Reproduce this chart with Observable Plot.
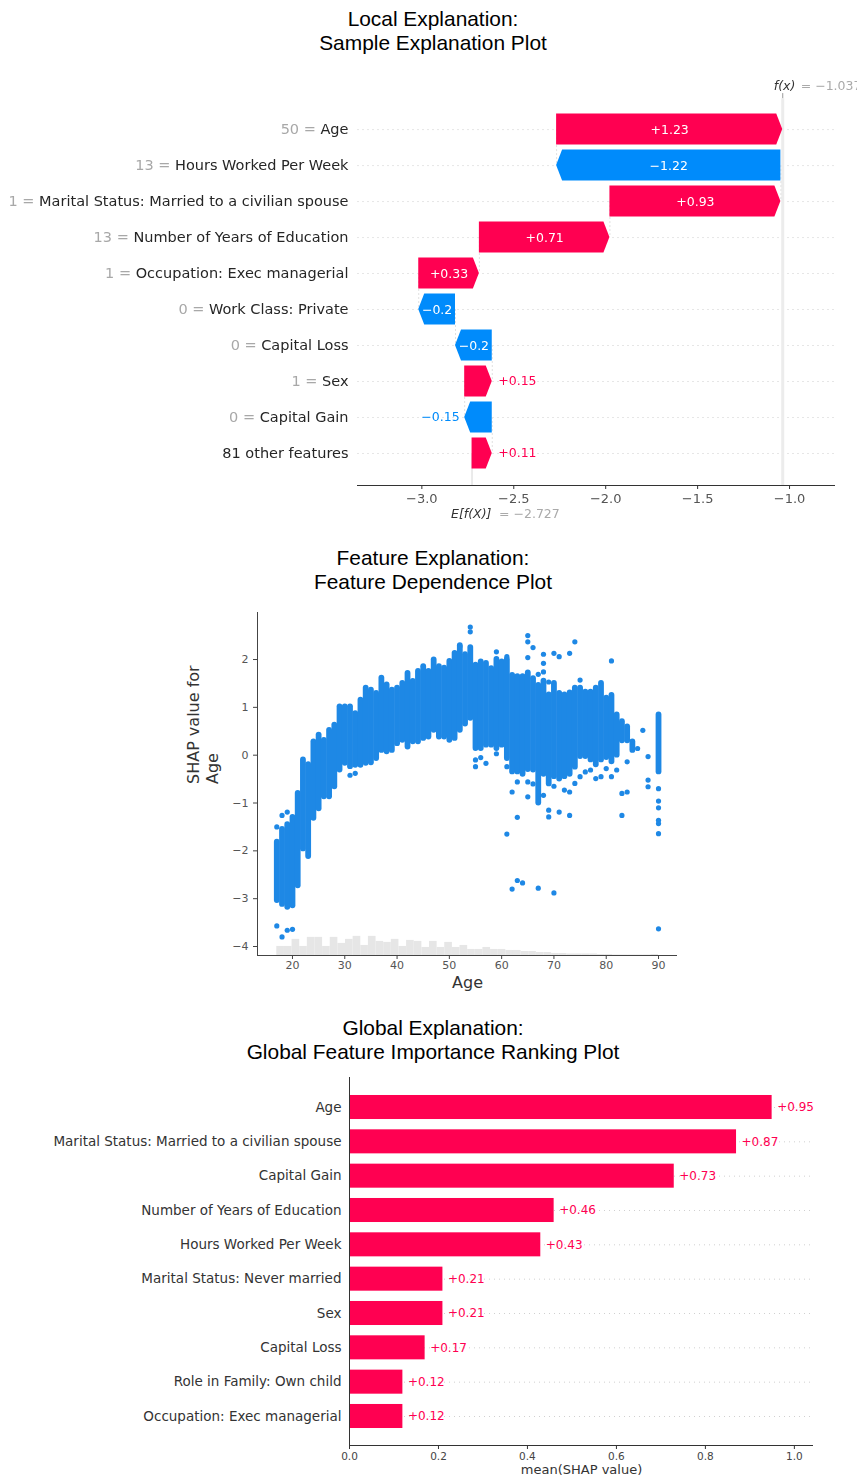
<!DOCTYPE html>
<html lang="en">
<head>
<meta charset="utf-8">
<title>SHAP explanations</title>
<script src="https://cdn.jsdelivr.net/npm/d3@7"></script>
<script src="https://cdn.jsdelivr.net/npm/@observablehq/plot@0.6"></script>
<style>
  html, body { margin: 0; background: #fff; }
  #page { position: relative; width: 857px; height: 1481px; overflow: hidden; }
  .title { position: absolute; left: 0; width: 866px; text-align: center;
           font: 20.9px/24px "Liberation Sans", Arial, sans-serif; color: #000; }
  .panel { position: absolute; left: 0; }
  .panel svg { display: block; overflow: hidden; }
  #local svg { filter: blur(0.35px); }
</style>
</head>
<body>
<div id="page">
  <div class="title" style="top:7px">Local Explanation:<br>Sample Explanation Plot</div>
  <div class="panel" id="local" style="top:60px"></div>
  <div class="title" style="top:546px">Feature Explanation:<br>Feature Dependence Plot</div>
  <div class="panel" id="dependence" style="top:600px"></div>
  <div class="title" style="top:1016px">Global Explanation:<br>Global Feature Importance Ranking Plot</div>
  <div class="panel" id="global" style="top:1070px"></div>
</div>
<script>
// ---------- Local explanation (waterfall) ----------
const localFeatures = ["Age", "Hours Worked Per Week", "Marital Status: Married to a civilian spouse",
  "Number of Years of Education", "Occupation: Exec managerial", "Work Class: Private",
  "Capital Loss", "Sex", "Capital Gain", "81 other features"];
const localValues = ["50", "13", "1", "13", "1", "0", "0", "1", "0", ""];
const localShap = [1.23, -1.22, 0.93, 0.71, 0.33, -0.2, -0.2, 0.15, -0.15, 0.11];
const baseValue = -2.727;
const localTicks = [-3.0, -2.5, -2.0, -1.5, -1.0];

// ---------- Feature dependence (Age) ----------
// dense columns of points: per age, lowest and highest SHAP value
const colAge = [17,18,19,20,21,22,23,24,25,26,27,28,29,30,31,32,33,34,35,36,37,38,39,40,41,42,43,44,45,46,
  47,48,49,50,51,52,53,54,55,56,57,58,59,60,61,62,63,64,65,66,67,68,69,70,71,72,73,74,75,76,77,78,79,80,
  81,82,83,84,85,90];
const colHi = [-1.82,-1.55,-1.45,-1.30,-0.80,-0.10,-0.20,0.28,0.42,0.31,0.52,0.63,1.01,1.01,1.01,0.87,1.15,1.40,1.36,1.29,
  1.61,1.47,1.36,1.40,1.50,1.71,1.54,1.75,1.85,1.75,1.99,1.85,1.82,1.96,2.13,2.29,2.10,2.25,1.88,1.95,
  1.92,1.81,2.00,1.95,2.00,1.67,1.64,1.64,1.72,1.60,1.46,1.55,1.26,1.50,1.29,1.26,1.30,1.40,1.40,1.32,
  1.32,1.40,1.50,1.19,1.25,0.84,0.70,0.59,0.28,0.84];
const colLo = [-3.04,-3.12,-3.18,-3.15,-2.73,-1.96,-2.12,-1.32,-1.12,-0.87,-0.87,-0.66,-0.31,-0.17,-0.24,-0.21,-0.21,-0.17,-0.16,-0.07,
  0.10,0.07,0.10,0.24,0.31,0.17,0.28,0.28,0.35,0.38,0.52,0.38,0.38,0.31,0.35,0.52,0.65,0.77,0.14,0.14,
  0.21,0.21,0.14,0.21,-0.07,-0.35,-0.35,-0.40,-0.30,-0.31,-1.00,-0.40,-0.60,-0.45,-0.50,-0.45,-0.40,-0.25,-0.03,-0.03,
  -0.10,-0.20,-0.10,-0.05,-0.14,0.00,0.30,0.30,0.10,-0.35];
// scattered individual points
const ptAge = [17,18,19,17,18,19,20,31,32,52,54,54,59,61,65,65,66,65,68,68,68,70,71,73,74,81,67,69,75,
  55,55,56,57,59,61,62,63,65,65,66,68,69,69,70,71,72,73,73,74,75,76,77,78,79,80,81,82,83,83,84,84,85,86,87,
  88,88,88,63,61,63,62,64,67,70,90,90,90,90,90,90,90];
const ptShap = [-1.50,-1.26,-1.19,-3.57,-3.80,-3.66,-3.64,-0.42,-0.38,2.27,2.68,2.58,2.16,2.06,2.50,2.37,2.25,2.04,2.11,1.92,1.74,2.13,2.06,2.13,2.37,1.97,1.69,1.53,1.57,
  -0.24,-0.10,-0.05,-0.17,0.03,-0.24,-0.77,-0.56,-0.56,-0.87,-0.60,-0.84,-1.15,-1.29,-0.65,-1.19,-0.73,-0.77,-1.26,-0.59,-0.45,-0.35,-0.31,-0.49,-0.45,-0.28,-0.45,-0.31,-0.80,-1.26,-0.77,-0.14,0.28,0.14,0.52,
  -0.03,-0.52,-0.66,-1.30,-1.65,-2.62,-2.80,-2.67,-2.78,-2.88,-0.70,-0.96,-1.10,-1.36,-1.43,-1.64,-3.63];
// age histogram: 50 bins from 17 to 90
const histStart = 17, histEnd = 90;
const histCounts = [495,495,880,495,990,990,495,990,660,880,1045,550,1045,770,715,880,495,825,770,440,
  770,440,715,440,550,330,330,440,330,330,275,275,220,220,165,165,110,110,83,83,83,83,55,55,28,28,28,28,28,55];
const depXTicks = [20, 30, 40, 50, 60, 70, 80, 90];
const depYTicks = [-4, -3, -2, -1, 0, 1, 2];

// ---------- Global importance ----------
const globalFeatures = ["Age", "Marital Status: Married to a civilian spouse", "Capital Gain",
  "Number of Years of Education", "Hours Worked Per Week", "Marital Status: Never married", "Sex",
  "Capital Loss", "Role in Family: Own child", "Occupation: Exec managerial"];
const globalMeanShap = [0.95, 0.87, 0.73, 0.46, 0.43, 0.21, 0.21, 0.17, 0.12, 0.12];
const globalTicks = [0, 0.2, 0.4, 0.6, 0.8, 1.0];

// ---------- shared styling ----------
const RED = "#ff0051", BLUE = "#008bfb", DOT_BLUE = "#1e88e5";
const FONT = "'DejaVu Sans', sans-serif";
const minus = s => String(s).replace("-", "\u2212");
const signed = v => (v > 0 ? "+" : "\u2212") + Math.abs(v);
const measureCtx = document.createElement("canvas").getContext("2d");
const textWidth = (s, size) => { measureCtx.font = `${size}px 'DejaVu Sans'`; return measureCtx.measureText(s).width; };

// ===== waterfall =====
{
  const W = 857, H = 470, mL = 357, mR = 22, mB = 45;
  const xDomain = [-3.35, -0.75];
  const yTop = -1.92, yAxis = 9.89;          // row units: space above the first bar, axis line below the last
  const halfBar = 0.43;
  const labelSize = 14.5, labelGap = 9;
  const unitsPerPx = (xDomain[1] - xDomain[0]) / (W - mL - mR);
  const headLen = 6 * unitsPerPx;

  // chain the contributions upward from the expected value
  const rows = [];
  let cursor = baseValue;
  for (let i = localShap.length - 1; i >= 0; i--) {
    const start = cursor, end = cursor + localShap[i];
    rows[i] = {i, name: localFeatures[i], value: localValues[i], shap: localShap[i], start, end,
      nameW: textWidth(localFeatures[i], labelSize)};
    cursor = end;
  }
  const fx = cursor;
  const spaceW = textWidth(" ", labelSize);

  const arrowPts = rows.flatMap(r => {
    const s = Math.sign(r.shap), head = Math.min(headLen, Math.abs(r.shap));
    const back = r.end - s * head;
    return [
      {i: r.i, pos: r.shap > 0, y: r.i - halfBar, x1: r.start, x2: back},
      {i: r.i, pos: r.shap > 0, y: r.i, x1: r.start, x2: r.end},
      {i: r.i, pos: r.shap > 0, y: r.i + halfBar, x1: r.start, x2: back}
    ];
  });
  const fits = r => Math.abs(r.shap) / unitsPerPx > signed(r.shap).length * 7.2;
  const inside = rows.filter(fits), outside = rows.filter(r => !fits(r));

  const chart = Plot.plot({
    width: W, height: H, marginLeft: mL, marginRight: mR, marginTop: 0, marginBottom: mB,
    style: {fontFamily: FONT, background: "white"},
    x: {domain: xDomain, axis: null},
    y: {domain: [yAxis, yTop], axis: null},
    marks: [
      Plot.ruleY(rows, {y: "i", stroke: "#e6e6e6", strokeDasharray: "2,3"}),
      Plot.ruleX([fx], {y1: -0.86, y2: yAxis, stroke: "#ececec", strokeWidth: 3}),
      Plot.ruleX([fx], {y1: -1.0, y2: -0.86, stroke: "#999"}),
      Plot.ruleX([baseValue], {y1: rows.length - 1, y2: yAxis, stroke: "#e4e4e4", strokeWidth: 1.5}),
      Plot.ruleX(rows.slice(0, -1), {x: "start", y1: "i", y2: d => d.i + 1, stroke: "#e0e0e0", strokeDasharray: "2,2"}),
      Plot.areaX(arrowPts.filter(d => d.pos), {y: "y", x1: "x1", x2: "x2", z: "i", fill: RED, curve: "linear"}),
      Plot.areaX(arrowPts.filter(d => !d.pos), {y: "y", x1: "x1", x2: "x2", z: "i", fill: BLUE, curve: "linear"}),
      Plot.text(inside, {x: d => (d.start + d.end) / 2, y: "i", text: d => signed(d.shap), fill: "white", fontSize: 12.5}),
      Plot.text(outside.filter(d => d.shap > 0), {x: "end", y: "i", text: d => signed(d.shap), dx: 6,
        textAnchor: "start", fill: RED, fontSize: 12.5}),
      Plot.text(outside.filter(d => d.shap < 0), {x: "end", y: "i", text: d => signed(d.shap), dx: -5,
        textAnchor: "end", fill: BLUE, fontSize: 12.5}),
      // feature labels: "value =" in gray, followed by the name in dark
      Plot.text(rows, {frameAnchor: "left", y: "i", dx: -labelGap, textAnchor: "end", fontSize: labelSize,
        text: "name", fill: "#262626"}),
      ...rows.filter(d => d.value).map(d =>
        Plot.text([d], {frameAnchor: "left", y: "i", dx: -labelGap - d.nameW - spaceW, textAnchor: "end",
          fontSize: labelSize, text: r => `${r.value} =`, fill: "#a8a8a8"})),
      Plot.ruleY([yAxis], {stroke: "#333"}),
      Plot.axisX({ticks: localTicks, tickFormat: d => minus(d.toFixed(1)), tickSize: 4, tickPadding: 4,
        fontSize: 13, stroke: "#333", fill: "#555", label: null}),
      Plot.text([baseValue], {x: d => d, frameAnchor: "bottom", dy: 32, dx: -21, textAnchor: "start",
        text: () => "E[f(X)]", fontStyle: "italic", fontSize: 12.5, fill: "#333"}),
      Plot.text([baseValue], {x: d => d, frameAnchor: "bottom", dy: 32, dx: 27, textAnchor: "start",
        text: d => "= " + minus(d.toFixed(3)), fontSize: 12.5, fill: "#aaa"}),
      Plot.text([fx], {x: d => d, frameAnchor: "top", dy: 21, dx: -9, textAnchor: "start",
        text: () => "f(x)", fontStyle: "italic", fontSize: 12.5, fill: "#333"}),
      Plot.text([fx], {x: d => d, frameAnchor: "top", dy: 21, dx: 18, textAnchor: "start",
        text: d => "= " + minus(d.toFixed(3)), fontSize: 12.5, fill: "#aaa"})
    ]
  });
  document.getElementById("local").append(chart);
}

// ===== dependence scatter =====
{
  const xDomain = [13.31, 93.63], yDomain = [-4.188, 2.983];
  const columns = colAge.map((a, k) => ({age: a, hi: colHi[k], lo: colLo[k]}));
  const points = ptAge.map((a, k) => ({age: a, shap: ptShap[k]}));
  const binW = (histEnd - histStart) / histCounts.length;
  const maxCount = d3.max(histCounts);
  const bins = histCounts.map((c, k) => ({x1: histStart + k * binW, x2: histStart + (k + 1) * binW,
    h: yDomain[0] + c / maxCount * 0.4}));

  const chart = Plot.plot({
    width: 857, height: 400, marginLeft: 257, marginRight: 180, marginTop: 12, marginBottom: 45,
    style: {fontFamily: FONT, background: "white"},
    x: {domain: xDomain, axis: null},
    y: {domain: yDomain, axis: null},
    marks: [
      Plot.rect(bins, {x1: "x1", x2: "x2", y1: yDomain[0], y2: "h", fill: "#e6e6e6"}),
      Plot.ruleX(columns, {x: "age", y1: "lo", y2: "hi", stroke: DOT_BLUE, strokeWidth: 5.8, strokeLinecap: "round"}),
      Plot.dot(points, {x: "age", y: "shap", r: 2.6, fill: DOT_BLUE}),
      Plot.ruleX([xDomain[0]], {stroke: "#444"}),
      Plot.ruleY([yDomain[0]], {stroke: "#444"}),
      Plot.axisX({ticks: depXTicks, tickSize: 4, tickPadding: 2, fontSize: 11, stroke: "#444", fill: "#555", label: null}),
      Plot.axisY({ticks: depYTicks, tickFormat: d => minus(d), tickSize: 4, tickPadding: 5, fontSize: 11,
        stroke: "#444", fill: "#555", label: null}),
      Plot.text(["SHAP value for"], {frameAnchor: "left", dx: -64, rotate: -90, fontSize: 16, fill: "#333"}),
      Plot.text(["Age"], {frameAnchor: "left", dx: -45, rotate: -90, fontSize: 16, fill: "#333"}),
      Plot.text(["Age"], {frameAnchor: "bottom", dy: 32, fontSize: 16, fill: "#333"})
    ]
  });
  document.getElementById("dependence").append(chart);
}

// ===== global importance bars =====
{
  const rows = globalFeatures.map((name, i) => ({i, name, v: globalMeanShap[i]}));
  const yTop = -0.874, yAxis = 9.845;
  const chart = Plot.plot({
    width: 857, height: 411, marginLeft: 349, marginRight: 44, marginTop: 7, marginBottom: 36,
    style: {fontFamily: FONT, background: "white"},
    x: {domain: [0, 1.043], axis: null},
    y: {domain: [yAxis, yTop], axis: null},
    marks: [
      Plot.ruleY(rows, {y: "i", stroke: "#d0d0d0", strokeDasharray: "1,4"}),
      Plot.rect(rows, {x1: 0, x2: "v", y1: d => d.i - 0.35, y2: d => d.i + 0.35, fill: RED}),
      Plot.text(rows, {x: "v", y: "i", text: d => "+" + d.v.toFixed(2), dx: 5, textAnchor: "start",
        fill: RED, fontSize: 12}),
      Plot.text(rows, {frameAnchor: "left", y: "i", dx: -8, textAnchor: "end", text: "name",
        fill: "#333", fontSize: 13.5}),
      Plot.ruleX([0], {stroke: "#333"}),
      Plot.ruleY([yAxis], {stroke: "#333"}),
      Plot.axisX({ticks: globalTicks, tickFormat: d => d.toFixed(1), tickSize: 4, tickPadding: 3,
        fontSize: 10.5, stroke: "#333", fill: "#444", label: null}),
      Plot.text(["mean(SHAP value)"], {frameAnchor: "bottom", dy: 28, fontSize: 13, fill: "#333"})
    ]
  });
  document.getElementById("global").append(chart);
}
</script>
</body>
</html>
